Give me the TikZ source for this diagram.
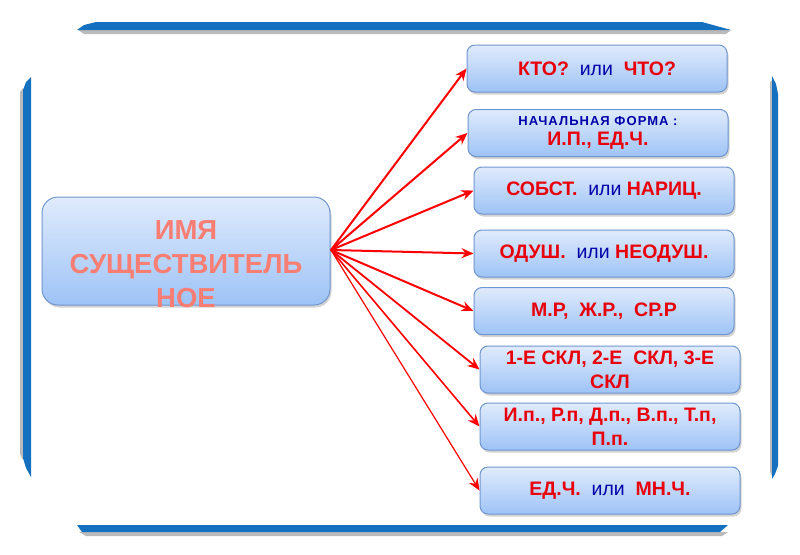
\documentclass[tikz,border=0pt]{standalone}
\usepackage{fontspec}
\setmainfont{Liberation Sans}
\usetikzlibrary{arrows.meta,shadows}
\definecolor{boxtop}{RGB}{224,235,252}
\definecolor{boxbot}{RGB}{158,195,246}
\definecolor{boxline}{RGB}{112,150,208}
\definecolor{rtext}{RGB}{232,0,10}
\definecolor{btext}{RGB}{0,0,168}
\definecolor{maintext}{RGB}{248,126,116}
\definecolor{barblue}{RGB}{22,112,192}
\definecolor{barshade}{RGB}{140,140,140}
\tikzset{
  itembox/.style={draw=boxline, line width=1pt, rounded corners=8pt,
    top color=boxtop, bottom color=boxbot, minimum width=260pt, minimum height=47pt,
    align=center, inner sep=2pt, text=rtext,
    font=\fontsize{19.5}{24}\selectfont\bfseries,
    drop shadow={shadow xshift=1.5pt, shadow yshift=-2.5pt, opacity=0.35}},
  mainbox/.style={draw=boxline, line width=1pt, rounded corners=16pt,
    top color=boxtop, bottom color=boxbot, minimum width=288pt, minimum height=108pt,
    drop shadow={shadow xshift=1.5pt, shadow yshift=-2.5pt, opacity=0.35}},
  mainlbl/.style={align=center, text=maintext,
    font=\fontsize{27.5}{34}\selectfont\bfseries},
  arr/.style={draw=red, line width=2pt, -{Stealth[length=12pt,width=10pt,inset=4pt]}},
  bar/.style={fill=barblue, draw=none},
  barsh/.style={fill=barshade, draw=none, opacity=0.6},
}
\newcommand{\ili}{{\mdseries\color{btext}или}}
\begin{document}
\begin{tikzpicture}[x=1pt,y=-1pt]
\useasboundingbox (0,0) rectangle (800,554);
% frame bars
\fill[barsh] (78,30) -- (731,30) -- (726,34) -- (84,34) -- cycle;
\fill[bar] (77,30) -- (84,25) -- (96,22) -- (702,22) -- (731,30) -- cycle;
\fill[barsh] (79,532) -- (728,532) -- (722,536) -- (86,536) -- cycle;
\fill[bar] (77,525) -- (728,525) -- (720,532) -- (82,532) -- cycle;
\fill[barsh] (20,92) -- (23,88) -- (23,460) -- (20,454) -- cycle;
\fill[bar] (23,90) -- (26,82) -- (31,77) -- (31,477) -- (26,468) -- (23,458) -- cycle;
\fill[barsh] (770,82) -- (772,80) -- (772,476) -- (770,472) -- cycle;
\fill[bar] (772,76) -- (776,84) -- (778,94) -- (778,466) -- (775,474) -- (772,479) -- cycle;
% main
\node[mainbox] (main) at (186,251) {};
\node[mainlbl] (mainlabel) at (186,264) {ИМЯ\\СУЩЕСТВИТЕЛЬ\\НОЕ};
% items
\node[itembox] (b1) at (597,68.5) {КТО?\ \ \ili\ \ ЧТО?};
\node[itembox] (b2) at (598,133) {{\fontsize{13}{15}\selectfont\addfontfeatures{LetterSpace=8}\color{btext}НАЧАЛЬНАЯ ФОРМА :}\\[-4pt]И.П., ЕД.Ч.};
\node[itembox] (b3) at (604,190.5) {СОБСТ.\ \ \ili{} НАРИЦ.};
\node[itembox] (b4) at (604,253.5) {ОДУШ.\ \ \ili{} НЕОДУШ.};
\node[itembox] (b5) at (604,311) {М.Р,\ \ Ж.Р.,\ \ СР.Р};
\node[itembox] (b6) at (610,369.5) {1-Е СКЛ, 2-Е\ \ СКЛ, 3-Е\\СКЛ};
\node[itembox] (b7) at (610,426.5) {И.п., Р.п, Д.п., В.п., Т.п,\\П.п.};
\node[itembox] (b8) at (610,490.5) {ЕД.Ч.\ \ \ili\ \ МН.Ч.};
% connectors
\coordinate (o) at (331,250);
\draw[arr] (o) -- (b1.west);
\draw[arr] (o) -- (b2.west);
\draw[arr] (o) -- (b3.west);
\draw[arr] (o) -- (b4.west);
\draw[arr] (o) -- (b5.west);
\draw[arr, line width=1.8pt] (o) -- (b6.west);
\draw[arr, line width=1.6pt] (o) -- (b7.west);
\draw[arr, line width=1.2pt] (o) -- (b8.west);
\end{tikzpicture}
\end{document}
